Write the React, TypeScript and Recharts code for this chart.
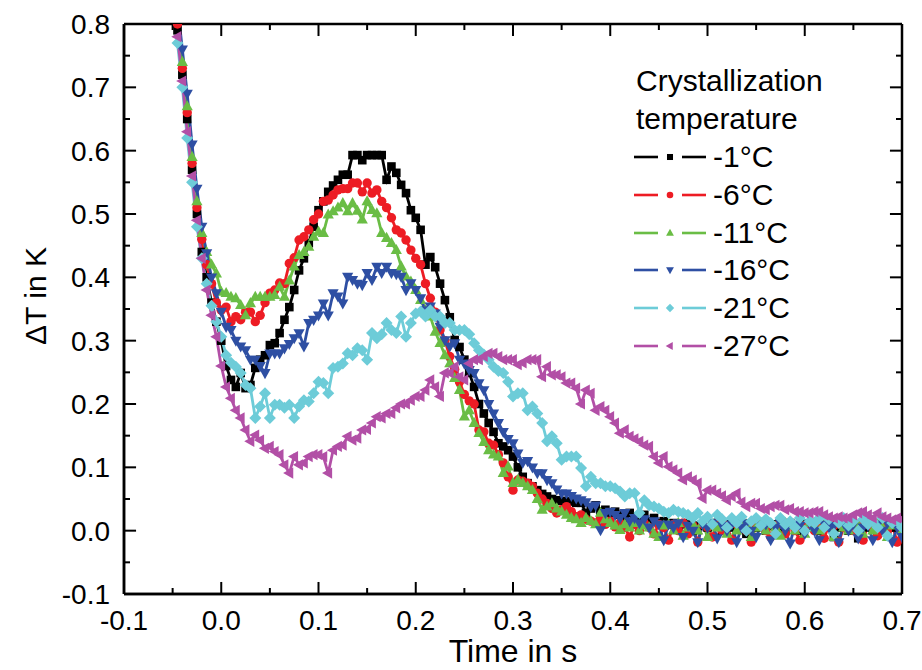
import { LineChart, Line, XAxis, YAxis, ReferenceLine } from "recharts";

// sample times (s), one sample every 5 ms
const TIME = [
  -0.05, -0.045, -0.04, -0.035, -0.03, -0.025, -0.02, -0.015, -0.01, -0.005,
  0.0, 0.005, 0.01, 0.015, 0.02, 0.025, 0.03, 0.035, 0.04, 0.045,
  0.05, 0.055, 0.06, 0.065, 0.07, 0.075, 0.08, 0.085, 0.09, 0.095,
  0.1, 0.105, 0.11, 0.115, 0.12, 0.125, 0.13, 0.135, 0.14, 0.145,
  0.15, 0.155, 0.16, 0.165, 0.17, 0.175, 0.18, 0.185, 0.19, 0.195,
  0.2, 0.205, 0.21, 0.215, 0.22, 0.225, 0.23, 0.235, 0.24, 0.245,
  0.25, 0.255, 0.26, 0.265, 0.27, 0.275, 0.28, 0.285, 0.29, 0.295,
  0.3, 0.305, 0.31, 0.315, 0.32, 0.325, 0.33, 0.335, 0.34, 0.345,
  0.35, 0.355, 0.36, 0.365, 0.37, 0.375, 0.38, 0.385, 0.39, 0.395,
  0.4, 0.405, 0.41, 0.415, 0.42, 0.425, 0.43, 0.435, 0.44, 0.445,
  0.45, 0.455, 0.46, 0.465, 0.47, 0.475, 0.48, 0.485, 0.49, 0.495,
  0.5, 0.505, 0.51, 0.515, 0.52, 0.525, 0.53, 0.535, 0.54, 0.545,
  0.55, 0.555, 0.56, 0.565, 0.57, 0.575, 0.58, 0.585, 0.59, 0.595,
  0.6, 0.605, 0.61, 0.615, 0.62, 0.625, 0.63, 0.635, 0.64, 0.645,
  0.65, 0.655, 0.66, 0.665, 0.67, 0.675, 0.68, 0.685, 0.69, 0.695,
  0.7,
];

const DT_M1 = [
  0.86, 0.79, 0.72, 0.65, 0.57, 0.5, 0.44, 0.4, 0.36, 0.33,
  0.3, 0.26, 0.238, 0.227, 0.249, 0.225, 0.23, 0.257, 0.27, 0.277,
  0.293, 0.296, 0.312, 0.333, 0.353, 0.38, 0.411, 0.43, 0.454, 0.48,
  0.506, 0.52, 0.535, 0.545, 0.554, 0.562, 0.562, 0.593, 0.593, 0.585,
  0.593, 0.593, 0.593, 0.593, 0.554, 0.575, 0.565, 0.546, 0.533, 0.506,
  0.494, 0.475, 0.42, 0.432, 0.416, 0.39, 0.364, 0.337, 0.301, 0.29,
  0.27, 0.249, 0.227, 0.2, 0.185, 0.17, 0.156, 0.138, 0.133, 0.127,
  0.117, 0.1, 0.085, 0.075, 0.07, 0.064, 0.058, 0.054, 0.05, 0.048,
  0.047, 0.046, 0.046, 0.044, 0.044, 0.028, 0.035, 0.04, 0.03, 0.033,
  0.028, 0.03, 0.025, 0.02, 0.028, 0.022, 0.018, 0.025, 0.015, 0.02,
  0.012, 0.015, 0.01, 0.012, 0.005, 0.01, 0.012, 0.0, 0.008, 0.01,
  0.005, 0.012, 0.008, 0.0, 0.01, 0.005, 0.012, 0.008, -0.005, 0.01,
  0.005, 0.012, 0.0, 0.008, 0.01, 0.005, 0.0, 0.012, 0.008, 0.0,
  0.01, 0.005, 0.012, 0.0, 0.008, 0.01, -0.01, 0.005, 0.012, 0.0,
  0.008, -0.012, 0.01, 0.005, 0.012, 0.0, 0.008, 0.01, 0.005, 0.012,
  0.0,
];

const DT_M6 = [
  0.86, 0.8, 0.73, 0.66, 0.58, 0.51, 0.46, 0.42, 0.39, 0.36,
  0.348, 0.353, 0.33, 0.338, 0.333, 0.345, 0.345, 0.33, 0.34, 0.36,
  0.375, 0.38, 0.391, 0.39, 0.422, 0.431, 0.459, 0.464, 0.475, 0.491,
  0.5, 0.52, 0.522, 0.53, 0.538, 0.54, 0.54, 0.549, 0.549, 0.535,
  0.549, 0.533, 0.538, 0.52, 0.51, 0.494, 0.475, 0.47, 0.459, 0.443,
  0.43, 0.42, 0.39, 0.367, 0.345, 0.317, 0.3, 0.275, 0.255, 0.235,
  0.215, 0.205, 0.2, 0.159, 0.156, 0.138, 0.135, 0.12, 0.107, 0.085,
  0.064, 0.08, 0.078, 0.075, 0.07, 0.059, 0.05, 0.043, 0.035, 0.028,
  0.033, 0.038, 0.03, 0.022, 0.025, 0.018, 0.015, 0.012, 0.02, 0.01,
  0.015, 0.006, 0.012, 0.005, -0.01, 0.01, 0.0, 0.012, 0.005, -0.005,
  0.01, 0.005, -0.015, 0.01, 0.0, 0.012, -0.005, 0.008, -0.018, 0.01,
  0.005, -0.01, 0.012, 0.0, 0.008, -0.015, 0.01, 0.005, 0.0, -0.018,
  0.01, 0.012, 0.0, -0.01, 0.008, 0.01, -0.005, 0.012, 0.0, -0.015,
  0.008, 0.01, 0.0, 0.005, -0.012, 0.01, 0.008, -0.018, 0.005, 0.012,
  0.0, 0.008, -0.015, 0.01, 0.005, -0.008, 0.012, 0.0, 0.01, -0.018,
  0.005,
];

const DT_M11 = [
  0.87, 0.81, 0.74, 0.67, 0.59, 0.52, 0.47, 0.44, 0.42, 0.406,
  0.377, 0.375, 0.369, 0.367, 0.356, 0.34, 0.359, 0.369, 0.369, 0.369,
  0.369, 0.372, 0.385, 0.369, 0.395, 0.417, 0.435, 0.44, 0.448, 0.464,
  0.472, 0.47, 0.499, 0.504, 0.51, 0.517, 0.504, 0.517, 0.505, 0.491,
  0.52, 0.506, 0.501, 0.47, 0.462, 0.454, 0.443, 0.417, 0.401, 0.393,
  0.38, 0.364, 0.348, 0.338, 0.314, 0.296, 0.277, 0.264, 0.241, 0.222,
  0.18, 0.19, 0.17, 0.154, 0.14, 0.127, 0.12, 0.117, 0.091, 0.101,
  0.075, 0.08, 0.075, 0.07, 0.064, 0.05, 0.033, 0.038, 0.043, 0.035,
  0.03, 0.025, 0.02, 0.018, 0.012, 0.02, 0.015, 0.01, 0.028, 0.018,
  0.012, 0.008, 0.001, 0.01, 0.005, 0.012, 0.0, 0.008, 0.005, -0.005,
  -0.01, 0.008, 0.01, 0.0, 0.012, -0.008, 0.005, 0.01, 0.0, 0.012,
  -0.01, 0.008, 0.005, 0.01, -0.005, 0.012, 0.0, 0.008, 0.01, -0.01,
  0.005, 0.012, 0.0, 0.01, 0.005, -0.008, 0.012, 0.008, 0.0, 0.01,
  -0.005, 0.012, 0.005, 0.0, 0.01, 0.008, -0.01, 0.012, 0.005, 0.0,
  0.01, 0.008, -0.005, 0.012, 0.0, 0.01, 0.005, -0.01, 0.008, 0.012,
  0.0,
];

const DT_M16 = [
  0.9, 0.83, 0.76, 0.69, 0.61, 0.54, 0.48, 0.438, 0.4, 0.375,
  0.346, 0.322, 0.317, 0.3, 0.291, 0.285, 0.27, 0.27, 0.26, 0.249,
  0.28, 0.28, 0.28, 0.288, 0.295, 0.304, 0.312, 0.291, 0.328, 0.333,
  0.34, 0.359, 0.34, 0.375, 0.37, 0.359, 0.401, 0.396, 0.39, 0.388,
  0.407, 0.396, 0.417, 0.407, 0.417, 0.407, 0.405, 0.401, 0.38, 0.391,
  0.38, 0.367, 0.348, 0.354, 0.343, 0.322, 0.301, 0.291, 0.296, 0.27,
  0.264, 0.254, 0.249, 0.233, 0.222, 0.2, 0.185, 0.17, 0.156, 0.145,
  0.138, 0.122, 0.107, 0.11, 0.1, 0.091, 0.091, 0.08, 0.075, 0.065,
  0.059, 0.059, 0.055, 0.051, 0.048, 0.045, 0.038, 0.04, 0.001, 0.028,
  0.03, 0.025, 0.02, 0.028, 0.015, 0.02, 0.012, 0.018, 0.005, 0.015,
  0.01, -0.015, 0.01, 0.005, 0.012, -0.01, 0.008, 0.0, -0.018, 0.01,
  0.005, 0.012, -0.012, 0.008, 0.0, 0.01, -0.018, 0.005, 0.012, 0.0,
  -0.01, 0.008, 0.01, -0.015, 0.005, 0.012, 0.0, -0.02, 0.01, 0.008,
  -0.005, 0.012, 0.0, -0.015, 0.01, 0.005, 0.008, -0.018, 0.012, 0.0,
  0.01, -0.012, 0.005, 0.008, -0.015, 0.01, 0.0, 0.012, -0.018, 0.005,
  -0.01,
];

const DT_M21 = [
  0.84, 0.77, 0.7, 0.62, 0.55, 0.48, 0.43, 0.39, 0.355, 0.33,
  0.306, 0.277, 0.265, 0.259, 0.249, 0.23, 0.225, 0.178, 0.196, 0.217,
  0.178, 0.199, 0.199, 0.194, 0.199, 0.178, 0.196, 0.206, 0.204, 0.217,
  0.235, 0.233, 0.217, 0.257, 0.259, 0.264, 0.28, 0.277, 0.288, 0.285,
  0.27, 0.312, 0.304, 0.31, 0.328, 0.317, 0.312, 0.338, 0.306, 0.328,
  0.343, 0.346, 0.338, 0.348, 0.338, 0.338, 0.328, 0.328, 0.317, 0.317,
  0.317, 0.31, 0.296, 0.285, 0.278, 0.27, 0.259, 0.252, 0.249, 0.235,
  0.212, 0.217, 0.217, 0.19, 0.196, 0.185, 0.17, 0.141, 0.149, 0.138,
  0.112, 0.117, 0.117, 0.117, 0.099, 0.07, 0.085, 0.075, 0.075, 0.07,
  0.07, 0.067, 0.062, 0.054, 0.059, 0.059, 0.028, 0.048, 0.04, 0.038,
  0.035, 0.03, 0.028, 0.033, 0.03, 0.028, 0.025, 0.02, 0.028, 0.015,
  0.022, 0.01, 0.025, 0.018, 0.005, 0.02, 0.012, 0.022, 0.0, 0.015,
  0.02, 0.008, 0.018, 0.012, -0.005, 0.02, 0.01, 0.015, 0.005, 0.02,
  0.0, 0.015, 0.012, 0.02, 0.005, 0.018, -0.005, 0.012, 0.02, 0.008,
  0.015, 0.0, 0.018, 0.01, 0.015, 0.005, 0.02, -0.008, 0.012, 0.015,
  0.005,
];

const DT_M27 = [
  0.85, 0.78, 0.71, 0.63, 0.56, 0.49, 0.43, 0.38, 0.34, 0.306,
  0.26, 0.227, 0.209, 0.19, 0.178, 0.159, 0.141, 0.151, 0.143, 0.13,
  0.133, 0.125, 0.12, 0.104, 0.091, 0.117, 0.104, 0.107, 0.117, 0.12,
  0.12, 0.117, 0.091, 0.127, 0.133, 0.135, 0.149, 0.143, 0.146, 0.159,
  0.16, 0.17, 0.18, 0.178, 0.185, 0.185, 0.194, 0.2, 0.2, 0.206,
  0.212, 0.212, 0.222, 0.238, 0.227, 0.212, 0.249, 0.249, 0.259, 0.243,
  0.238, 0.264, 0.27, 0.27, 0.275, 0.28, 0.28, 0.275, 0.27, 0.27,
  0.27, 0.262, 0.265, 0.27, 0.27, 0.27, 0.243, 0.259, 0.246, 0.246,
  0.243, 0.233, 0.233, 0.225, 0.2, 0.222, 0.217, 0.19, 0.196, 0.19,
  0.18, 0.17, 0.154, 0.159, 0.149, 0.145, 0.141, 0.135, 0.133, 0.117,
  0.107, 0.117, 0.101, 0.096, 0.091, 0.08, 0.085, 0.08, 0.075, 0.051,
  0.064, 0.064, 0.059, 0.055, 0.048, 0.054, 0.059, 0.045, 0.038, 0.043,
  0.043, 0.035, 0.033, 0.038, 0.04, 0.04, 0.033, 0.035, 0.03, 0.03,
  0.028, 0.028, 0.03, 0.03, 0.025, 0.022, 0.02, 0.022, 0.02, 0.02,
  0.025, 0.028, 0.03, 0.025, 0.02, 0.028, 0.022, 0.02, 0.017, 0.02,
  0.018,
];

const X_TICKS = [-0.1, -0.05, 0, 0.05, 0.1, 0.15, 0.2, 0.25, 0.3, 0.35, 0.4, 0.45, 0.5, 0.55, 0.6, 0.65, 0.7];
const Y_TICKS = [-0.1, -0.05, 0, 0.05, 0.1, 0.15, 0.2, 0.25, 0.3, 0.35, 0.4, 0.45, 0.5, 0.55, 0.6, 0.65, 0.7, 0.75, 0.8];

type Shape = "square" | "circle" | "up" | "down" | "diamond" | "left";

const SERIES: { key: string; name: string; color: string; shape: Shape; values: number[] }[] = [
  { key: "m1", name: "-1°C", color: "#000000", shape: "square", values: DT_M1 },
  { key: "m6", name: "-6°C", color: "#ed1c24", shape: "circle", values: DT_M6 },
  { key: "m11", name: "-11°C", color: "#6abd45", shape: "up", values: DT_M11 },
  { key: "m16", name: "-16°C", color: "#2e4fa3", shape: "down", values: DT_M16 },
  { key: "m21", name: "-21°C", color: "#6dccd8", shape: "diamond", values: DT_M21 },
  { key: "m27", name: "-27°C", color: "#b24fa6", shape: "left", values: DT_M27 },
];

const data = TIME.map((t, i) => {
  const row: Record<string, number> = { t };
  SERIES.forEach((s) => (row[s.key] = s.values[i]));
  return row;
});

const FONT = "'Liberation Sans', Arial, sans-serif";
const X_MIN = -0.1, X_MAX = 0.7, Y_MIN = -0.1, Y_MAX = 0.8;
// inner tick lengths in axis units (about 12px major / 6px minor)
const XTICK_LEN = { major: 0.019, minor: 0.0095 }; // along y, for ticks on x axes
const YTICK_LEN = { major: 0.0124, minor: 0.0062 }; // along x, for ticks on y axes
const isMajor = (v: number) => Math.abs(v * 10 - Math.round(v * 10)) < 1e-6;

function Marker({ shape, cx, cy, color, s = 1 }: { shape: Shape; cx: number; cy: number; color: string; s?: number }) {
  const p = (pts: number[][]) => pts.map(([dx, dy]) => `${cx + dx * s},${cy + dy * s}`).join(" ");
  switch (shape) {
    case "square":
      return <rect x={cx - 4.3 * s} y={cy - 4.3 * s} width={8.6 * s} height={8.6 * s} fill={color} />;
    case "circle":
      return <circle cx={cx} cy={cy} r={4.7 * s} fill={color} />;
    case "up":
      return <polygon points={p([[0, -6.2], [5.6, 3.9], [-5.6, 3.9]])} fill={color} />;
    case "down":
      return <polygon points={p([[0, 6.2], [5.6, -3.9], [-5.6, -3.9]])} fill={color} />;
    case "diamond":
      return <polygon points={p([[0, -6], [6, 0], [0, 6], [-6, 0]])} fill={color} />;
    default:
      return <polygon points={p([[-6.2, 0], [3.9, -5.6], [3.9, 5.6]])} fill={color} />;
  }
}

const dotFor = (shape: Shape, color: string) => (props: any) => {
  const { cx, cy, index } = props;
  if (cx == null || cy == null) return <g key={`e-${index}`} />;
  return (
    <g key={`d-${index}`}>
      <Marker shape={shape} cx={cx} cy={cy} color={color} />
    </g>
  );
};

function BottomTick(props: any) {
  const { x, y, payload } = props;
  const v = payload.value as number;
  if (!isMajor(v)) return <g />;
  return (
    <text x={x} y={Number(y) + 36} textAnchor="middle" fontSize={28} fill="#000" fontFamily={FONT}>
      {v.toFixed(1)}
    </text>
  );
}

function LeftTick(props: any) {
  const { x, y, payload } = props;
  const v = payload.value as number;
  if (!isMajor(v)) return <g />;
  return (
    <text x={Number(x) - 14} y={Number(y) + 10} textAnchor="end" fontSize={28} fill="#000" fontFamily={FONT}>
      {v.toFixed(1)}
    </text>
  );
}

function SeriesLegend() {
  const row = { height: 37.9, lineHeight: "37.9px", whiteSpace: "nowrap" as const };
  return (
    <div style={{ position: "absolute", left: 636, top: 62, fontSize: 30, fontFamily: FONT, color: "#000" }}>
      <div style={row}>Crystallization</div>
      <div style={row}>temperature</div>
      {SERIES.map((s) => (
        <div key={s.key} style={{ ...row, display: "flex", alignItems: "center", marginLeft: -2 }}>
          <svg width={76} height={20} style={{ marginRight: 3 }}>
            <line x1={0} x2={24} y1={10} y2={10} stroke={s.color} strokeWidth={2.6} />
            <line x1={48} x2={72} y1={10} y2={10} stroke={s.color} strokeWidth={2.6} />
            <Marker shape={s.shape} cx={36} cy={10} color={s.color} s={0.7} />
          </svg>
          <span>{s.name}</span>
        </div>
      ))}
    </div>
  );
}

export default function App() {
  const frame = { stroke: "#000", strokeWidth: 2.5 };
  const tickStyle = { stroke: "#000", strokeWidth: 2 };
  return (
    <div style={{ position: "relative", width: 922, height: 670, background: "#fff", fontFamily: FONT }}>
      <style>{"body{margin:0}"}</style>
      <LineChart width={922} height={670} data={data} margin={{ top: 24, right: 20, bottom: 0, left: 0 }}>
        <XAxis
          dataKey="t"
          type="number"
          domain={[X_MIN, X_MAX]}
          ticks={X_TICKS}
          interval={0}
          allowDataOverflow
          height={76}
          tickSize={0}
          tickMargin={0}
          tickLine={false}
          stroke="#000"
          axisLine={frame}
          tick={<BottomTick />}
          label={{ value: "Time in s", position: "insideBottom", offset: 8, style: { fontSize: 32, fill: "#000", fontFamily: FONT } }}
        />
        <YAxis
          type="number"
          domain={[Y_MIN, Y_MAX]}
          ticks={Y_TICKS}
          interval={0}
          allowDataOverflow
          width={124}
          tickSize={0}
          tickMargin={0}
          tickLine={false}
          stroke="#000"
          axisLine={frame}
          tick={<LeftTick />}
          label={{
            value: "ΔT in K",
            angle: -90,
            position: "insideLeft",
            offset: 35,
            dy: -13,
            style: { fontSize: 30, fill: "#000", fontFamily: FONT, textAnchor: "middle" },
          }}
        />
        {X_TICKS.flatMap((v) => {
          const len = isMajor(v) ? XTICK_LEN.major : XTICK_LEN.minor;
          return [
            <ReferenceLine key={`xb${v}`} segment={[{ x: v, y: Y_MIN }, { x: v, y: Y_MIN + len }]} {...tickStyle} />,
            <ReferenceLine key={`xt${v}`} segment={[{ x: v, y: Y_MAX }, { x: v, y: Y_MAX - len }]} {...tickStyle} />,
          ];
        })}
        {Y_TICKS.flatMap((v) => {
          const len = isMajor(v) ? YTICK_LEN.major : YTICK_LEN.minor;
          return [
            <ReferenceLine key={`yl${v}`} segment={[{ x: X_MIN, y: v }, { x: X_MIN + len, y: v }]} {...tickStyle} />,
            <ReferenceLine key={`yr${v}`} segment={[{ x: X_MAX, y: v }, { x: X_MAX - len, y: v }]} {...tickStyle} />,
          ];
        })}
        <ReferenceLine x={X_MIN} {...frame} />
        <ReferenceLine x={X_MAX} {...frame} />
        <ReferenceLine y={Y_MIN} {...frame} />
        <ReferenceLine y={Y_MAX} {...frame} />
        {SERIES.map((s) => (
          <Line
            key={s.key}
            type="linear"
            dataKey={s.key}
            name={s.name}
            stroke={s.color}
            strokeWidth={2.8}
            dot={dotFor(s.shape, s.color)}
            activeDot={false}
            isAnimationActive={false}
          />
        ))}
      </LineChart>
      <SeriesLegend />
    </div>
  );
}
